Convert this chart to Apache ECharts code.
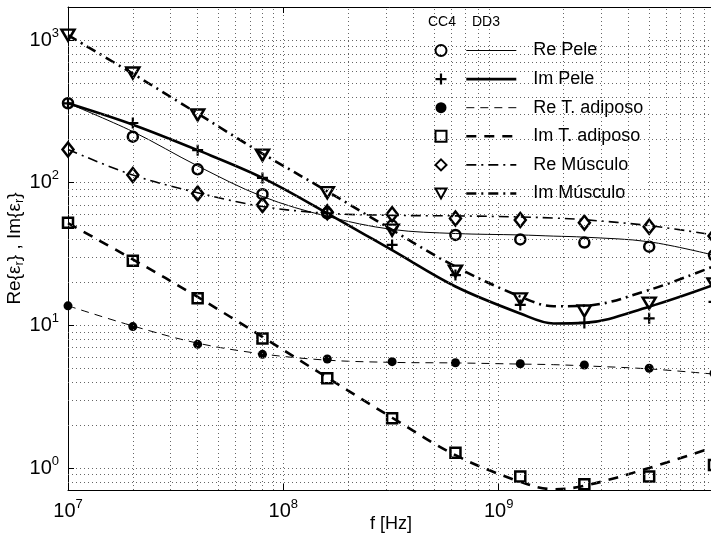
<!DOCTYPE html>
<html><head><meta charset="utf-8">
<script src="https://cdn.jsdelivr.net/npm/echarts@6/dist/echarts.min.js"></script>
<style>html,body{margin:0;padding:0;background:#fff}#c{width:711px;height:538px}</style>
</head><body><div id="c"></div>
<script>
// ---- data ----
const seriesNames = ['Re Pele', 'Im Pele', 'Re T. adiposo', 'Im T. adiposo', 'Re Músculo', 'Im Músculo'];
// measured points (CC4)
const markerFreq = [1e7, 2e7, 4e7, 8e7, 1.6e8, 3.2e8, 6.3e8, 1.26e9, 2.5e9, 5e9, 1e10];
const reSkinPts   = [360, 210, 124, 83, 61, 50, 43, 40, 38, 35.6, 31];
const imSkinPts   = [360, 262, 169, 108, 61, 36.6, 22.5, 13.9, 10.4, 11.2, 14.6];
const reFatPts    = [13.7, 9.8, 7.36, 6.26, 5.81, 5.56, 5.47, 5.38, 5.27, 5.0, 4.61];
const imFatPts    = [52.4, 28.4, 15.5, 8.1, 4.25, 2.23, 1.28, 0.87, 0.77, 0.87, 1.05];
const reMusclePts = [171, 113, 84, 69.7, 62, 60, 56, 54.7, 52.4, 49, 42.3];
const imMusclePts = [1080, 587, 298, 156, 85, 46.5, 24, 15.3, 12.6, 14.3, 19.5];
// model curves (DD3)
const lineFreq = [1e7, 2e7, 4e7, 8e7, 1.6e8, 3.2e8, 6.3e8, 1.26e9, 1.8e9, 2.5e9, 5e9, 1e10];
const reSkinLine   = [360, 228, 131, 80, 58, 47, 44, 43, 42.2, 41.5, 38.5, 31];
const imSkinLine   = [360, 255, 169, 108, 61, 33.6, 18.7, 12.1, 10.3, 10.4, 13.5, 19.2];
const reFatLine    = [13.7, 9.9, 7.5, 6.3, 5.7, 5.5, 5.45, 5.35, 5.3, 5.2, 4.95, 4.55];
const imFatLine    = [52, 29, 15.8, 8.3, 4.3, 2.25, 1.23, 0.80, 0.71, 0.75, 1.0, 1.4];
const reMuscleLine = [171, 113, 85, 68, 61, 59, 58.5, 57.5, 56.5, 55, 50, 43];
const imMuscleLine = [1080, 580, 305, 160, 87, 46.6, 25.8, 15.9, 13.6, 13.7, 17.7, 26];
// axes
const xMin = 1e7, xMax = 1e10;
const yMin = 0.701, yMax = 1703;

const FONT = 'Liberation Sans';
const pts = (f, v) => f.map((x, i) => [x, v[i]]);

const markerVals = [reSkinPts, imSkinPts, reFatPts, imFatPts, reMusclePts, imMusclePts];
const lineVals = [reSkinLine, imSkinLine, reFatLine, imFatLine, reMuscleLine, imMuscleLine];
const hollow = 'rgba(255,255,255,0)';
const markerStyles = [
  { symbol: 'circle', size: 10, color: hollow, bw: 2.5 },
  { symbol: 'path://M4,0H6V4H10V6H6V10H4V6H0V4H4Z', size: 11, color: '#000', bw: 0 },
  { symbol: 'circle', size: 9, color: '#000', bw: 0 },
  { symbol: 'rect', size: 10, color: hollow, bw: 2.5 },
  { symbol: 'diamond', size: [11, 14], color: hollow, bw: 2.5 },
  { symbol: 'path://M0,0L10,0L5,9Z', size: [13, 11], color: hollow, bw: 2.5 }
];
const lineStyles = [
  { width: 1, type: 'solid' },
  { width: 2.6, type: 'solid' },
  { width: 1, type: [8, 6] },
  { width: 2.6, type: [10, 8] },
  { width: 1.6, type: [10, 5, 2, 5] },
  { width: 2.6, type: [10, 5, 2, 5] }
];

// minor grid positions
const xMinor = [], yMinor = [];
for (let d = 7; d < 10; d++) for (let m = 2; m <= 9; m++) xMinor.push(m * Math.pow(10, d));
for (let d = -1; d < 4; d++) for (let m = 2; m <= 9; m++) { const v = m * Math.pow(10, d); if (v > yMin && v < yMax) yMinor.push(v); }

const gridLine = { color: '#666', width: 1, type: [1, 3] };
const powLabel = (v) => {
  const e = Math.log10(v);
  const r = Math.round(e);
  if (Math.abs(e - r) > 1e-6) return '';
  return '{b|10}{s|' + r + '}';
};
const labelRich = {
  b: { fontSize: 20, fontFamily: FONT, color: '#000', lineHeight: 27, verticalAlign: 'middle' },
  s: { fontSize: 13, fontFamily: FONT, color: '#000', lineHeight: 13, verticalAlign: 'top' }
};

const series = [];
// minor grid (dummy series with mark lines)
series.push({
  type: 'line', name: '_grid', data: [], z: 1, silent: true,
  markLine: {
    silent: true, symbol: ['none', 'none'], label: { show: false }, animation: false,
    lineStyle: gridLine, emphasis: { disabled: true },
    data: xMinor.map(v => ({ xAxis: v })).concat(yMinor.map(v => ({ yAxis: v })))
  }
});
seriesNames.forEach((n, i) => {
  series.push({
    type: 'line', name: n, data: pts(lineFreq, lineVals[i]), symbol: 'none', smooth: 0.35,
    lineStyle: Object.assign({ color: '#000' }, lineStyles[i]), itemStyle: { color: '#000' },
    z: 2, silent: true
  });
});
seriesNames.forEach((n, i) => {
  const m = markerStyles[i];
  series.push({
    type: 'scatter', name: n + ' CC4', data: pts(markerFreq, markerVals[i]),
    symbol: m.symbol, symbolSize: m.size,
    itemStyle: { color: m.color, borderColor: '#000', borderWidth: m.bw, opacity: 1 },
    z: 4, silent: true
  });
});

const legendText = { fontSize: 18, fontFamily: FONT, color: '#000' };
const chart = echarts.init(document.getElementById('c'), null, { renderer: 'canvas' });
chart.setOption({
  animation: false,
  backgroundColor: '#fff',
  grid: { left: 68, right: -3, top: 7, bottom: 48, containLabel: false, outerBoundsMode: 'none' },
  xAxis: [{
    type: 'log', logBase: 10, min: xMin, max: xMax, position: 'bottom',
    axisLine: { show: true, lineStyle: { color: '#000', width: 1 } },
    axisTick: { show: true, inside: true, length: 6, lineStyle: { color: '#000' } },
    axisLabel: { formatter: powLabel, rich: labelRich, margin: 8, showMaxLabel: false },
    splitLine: { show: true, lineStyle: gridLine },
    name: 'f [Hz]', nameLocation: 'middle', nameGap: 25, nameMoveOverlap: false,
    nameTextStyle: { fontSize: 18, fontFamily: FONT, color: '#000' }
  }, {
    type: 'log', logBase: 10, min: xMin, max: xMax, position: 'top',
    axisLine: { show: true, lineStyle: { color: '#000', width: 1 } },
    axisTick: { show: true, inside: true, length: 6, lineStyle: { color: '#000' } },
    axisLabel: { show: false }, splitLine: { show: false }
  }],
  yAxis: [{
    type: 'log', logBase: 10, min: yMin, max: yMax,
    axisLine: { show: true, lineStyle: { color: '#000', width: 1 } },
    axisTick: { show: true, inside: true, length: 6, lineStyle: { color: '#000' } },
    axisLabel: { formatter: powLabel, rich: labelRich, margin: 9 },
    splitLine: { show: true, lineStyle: gridLine },
    name: 'Re{ε{s|r}} , Im{ε{s|r}}', nameLocation: 'middle', nameGap: 42, nameRotate: 90,
    nameMoveOverlap: false,
    nameTextStyle: {
      fontSize: 19, fontFamily: FONT, color: '#000', lineHeight: 22,
      rich: { s: { fontSize: 13, fontFamily: FONT, color: '#000', lineHeight: 12, verticalAlign: 'bottom' } }
    }
  }],
  legend: [{
    data: seriesNames.map(n => n + ' CC4'), orient: 'vertical', left: 429.5, top: 36.5,
    itemWidth: 11, itemHeight: 11, itemGap: 10.6, selectedMode: false, z: 6,
    formatter: () => ' ', textStyle: legendText
  }, {
    data: seriesNames.map((n, i) => ({ name: n, lineStyle: Object.assign({ color: '#000' }, lineStyles[i]) })),
    orient: 'vertical', left: 460, top: 36.5,
    itemWidth: 50, itemHeight: 14, itemGap: 10.6, selectedMode: false, z: 6,
    itemStyle: { opacity: 0, borderWidth: 0 },
    textStyle: Object.assign({ padding: [0, 0, 0, 12] }, legendText)
  }],
  graphic: [
    { type: 'rect', left: 410, top: 8, shape: { width: 236, height: 194 }, style: { fill: '#fff' }, z: 3, silent: true },
    { type: 'text', left: 428, top: 15, style: { text: 'CC4', font: '14px "Liberation Sans"', fill: '#000' }, z: 6 },
    { type: 'text', left: 472, top: 15, style: { text: 'DD3', font: '14px "Liberation Sans"', fill: '#000' }, z: 6 }
  ],
  series: series
});
</script>
</body></html>
